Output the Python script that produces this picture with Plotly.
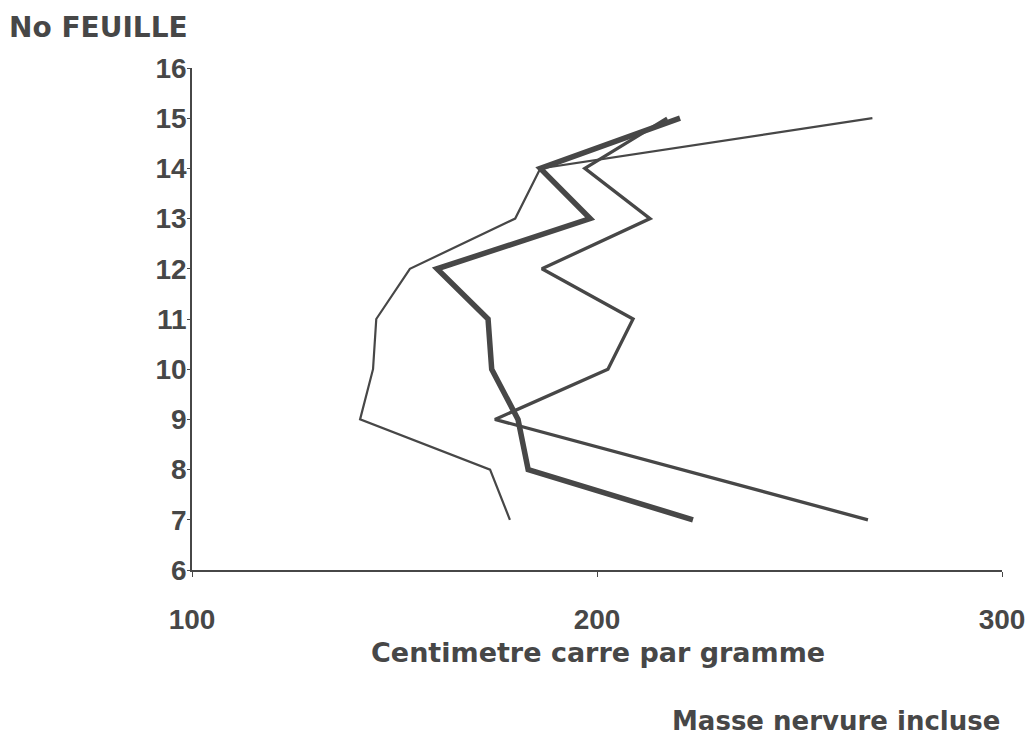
import plotly.graph_objects as go

# Leaf number (y) and specific leaf area in cm2/g (x) for three series
leaf_a = [7, 8, 9, 10, 11, 12, 13, 14, 15]
sla_a = [178.5, 173.6, 141.5, 144.7, 145.5, 153.8, 179.8, 186.0, 268.0]

leaf_b = [7, 8, 9, 10, 11, 12, 13, 14, 15]
sla_b = [223.7, 183.0, 180.5, 174.0, 173.1, 160.5, 198.3, 186.0, 220.5]

leaf_c = [7, 9, 10, 11, 12, 13, 14, 15]
sla_c = [266.9, 174.8, 202.7, 208.9, 186.4, 213.1, 197.0, 217.3]

x_ticks = [100, 200, 300]
y_ticks = list(range(6, 17))

col = "#474747"
tick_font = "Liberation Sans"
title_font = "DejaVu Sans"

fig = go.Figure()
fig.add_trace(go.Scatter(x=sla_a, y=leaf_a, mode="lines",
                         line=dict(color=col, width=2.2)))
fig.add_trace(go.Scatter(x=sla_c, y=leaf_c, mode="lines",
                         line=dict(color=col, width=3.3)))
fig.add_trace(go.Scatter(x=sla_b, y=leaf_b, mode="lines",
                         line=dict(color=col, width=5.5)))

fig.update_layout(
    width=1030, height=739,
    margin=dict(l=192, r=28, t=68, b=169, autoexpand=False),
    paper_bgcolor="white", plot_bgcolor="white",
    showlegend=False,
    font=dict(family=tick_font, color=col),
    xaxis=dict(range=[100, 300], tickvals=x_ticks, showgrid=False, zeroline=False,
               automargin=False,
               showline=True, linecolor=col, linewidth=1.5,
               ticks="outside", ticklen=5, tickcolor=col,
               ticklabelstandoff=19,
               tickfont=dict(size=28, weight="bold", color=col, family=tick_font)),
    yaxis=dict(range=[6, 16], tickvals=y_ticks, showgrid=False, zeroline=False,
               automargin=False,
               showline=True, linecolor=col, linewidth=1.5,
               ticks="outside", ticklen=3, tickcolor=col,
               ticklabelstandoff=-5,
               tickfont=dict(size=28, weight="bold", color=col, family=tick_font)),
    annotations=[
        dict(text="No FEUILLE", xref="paper", yref="paper", x=-0.228, y=1.0797,
             xanchor="left", yanchor="middle", showarrow=False,
             font=dict(size=28, color=col, weight="bold", family=title_font)),
        dict(text="Centimetre carre par gramme", xref="paper", yref="paper",
             x=0.501, y=-0.1653, xanchor="center", yanchor="middle", showarrow=False,
             font=dict(size=27, color=col, weight="bold", family=title_font)),
        dict(text="Masse nervure incluse", xref="paper", yref="paper", x=1.0, y=-0.3008,
             xanchor="right", yanchor="middle", showarrow=False,
             font=dict(size=26, color=col, weight="bold", family=title_font)),
    ],
)

fig.write_html(
    "out.html",
    config={"displayModeBar": False},
    post_script="document.body.style.margin='0';document.body.style.overflow='hidden';",
)
